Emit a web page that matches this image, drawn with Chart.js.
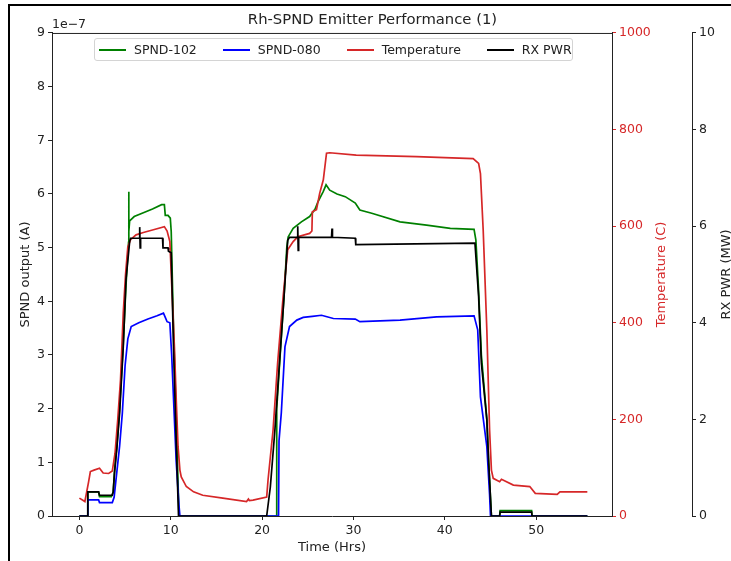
<!DOCTYPE html>
<html>
<head>
<meta charset="utf-8">
<script src="https://cdn.jsdelivr.net/npm/chart.js@4/dist/chart.umd.min.js"></script>
<style>
  body { margin: 0; background: #fff; font-family: "DejaVu Sans", sans-serif; }
  #wrap { position: relative; width: 731px; height: 561px; overflow: hidden; }
  #chart { position: absolute; left: 0; top: 0; }
  .frame { position: absolute; left: 8px; top: 4px; right: 0; bottom: 0;
           border-left: 2px solid #000; border-top: 2px solid #000; pointer-events: none; }
  .legend { position: absolute; left: 94px; top: 38px; width: 479px; height: 23px;
            border: 1px solid #d4d4d4; border-radius: 3px; background: rgba(255,255,255,0.8);
            display: flex; align-items: center; padding-left: 4px; box-sizing: border-box;
            font-size: 12.5px; color: #222; white-space: nowrap; }
  .legend .item { display: flex; align-items: center; margin-right: 26px; flex-shrink: 0; }
  .legend .swatch { width: 27px; height: 2px; margin-right: 8px; }
</style>
</head>
<body>
<div id="wrap">
  <canvas id="chart" width="731" height="561"></canvas>
  <div class="legend" id="legend"></div>
  <div class="frame"></div>
</div>
<script>
// SPND currents are in units of 1e-7 A
const t102 = [0, 0.9, 0.92, 2.1, 2.2, 3.5, 3.7, 3.85, 4.1, 4.4, 4.8, 5.1, 5.38, 5.4, 5.42, 5.5, 6.0, 7.0, 8.0, 9.0, 9.3, 9.4, 9.7, 9.95, 10.05, 10.3, 10.6, 10.9, 11.0,
  21.55, 21.6, 21.9, 22.4, 22.7, 22.85, 23.4, 24.3, 25.2, 25.8, 26.1, 26.7, 27.0, 27.4, 28.2, 29.1, 30.2, 30.7, 32.0, 35.1, 38.0, 40.6, 43.2, 43.4, 43.7, 44.0, 44.6, 44.8, 45.1,
  46.0, 46.05, 49.5, 49.55, 55.6];
const v102 = [0, 0, 0.45, 0.45, 0.36, 0.36, 0.45, 0.85, 1.3, 2.0, 3.2, 4.3, 5.1, 6.04, 5.3, 5.5, 5.58, 5.65, 5.72, 5.8, 5.8, 5.6, 5.6, 5.55, 5.3, 3.5, 1.8, 0, 0,
  0, 2.0, 2.8, 4.1, 5.0, 5.2, 5.36, 5.48, 5.58, 5.72, 5.85, 6.05, 6.17, 6.07, 6.0, 5.95, 5.83, 5.7, 5.64, 5.48, 5.42, 5.36, 5.34, 5.14, 4.2, 3.0, 1.8, 1.0, 0,
  0, 0.1, 0.1, 0, 0];

const t080 = [0, 0.9, 0.92, 2.1, 2.2, 3.6, 3.8, 4.0, 4.4, 4.7, 5.0, 5.3, 5.67, 6.5, 7.5, 8.5, 9.2, 9.4, 9.6, 9.9, 10.1, 10.4, 10.6, 10.9, 11.0,
  21.8, 21.85, 22.1, 22.5, 23.0, 23.8, 24.5, 25.5, 26.5, 27.8, 30.2, 30.7, 35.1, 39.1, 43.2, 43.6, 43.9, 44.6, 44.9, 45.0, 55.6];
const v080 = [0, 0, 0.3, 0.3, 0.25, 0.25, 0.35, 0.67, 1.3, 1.92, 2.8, 3.3, 3.53, 3.6, 3.67, 3.73, 3.78, 3.7, 3.62, 3.6, 3.0, 1.8, 1.0, 0.2, 0,
  0, 1.4, 1.92, 3.15, 3.53, 3.65, 3.7, 3.72, 3.74, 3.68, 3.67, 3.62, 3.65, 3.71, 3.73, 3.47, 2.22, 1.29, 0.4, 0, 0];

// temperature in C
const tTemp = [0, 0.6, 1.0, 1.2, 1.6, 2.2, 2.6, 3.2, 3.6, 3.9, 4.2, 4.5, 4.8, 5.05, 5.3, 5.6, 6.2, 7.0, 8.0, 9.3, 9.6, 9.9, 10.1, 10.4, 10.6, 10.8, 11.0, 11.15, 11.7, 12.5, 13.5, 15.7, 18.3, 18.5, 18.6, 19.0, 20.5,
  20.65, 21.2, 21.7, 22.3, 22.8, 23.4, 23.9, 25.2, 25.45, 25.5, 25.95, 26.3, 26.7, 27.05, 27.4, 30.3, 36.9, 43.1, 43.7, 43.9, 44.2, 44.6, 44.9, 45.1, 45.3, 46.0, 46.2, 47.5, 49.3, 49.9, 52.3, 52.6, 55.6];
const vTemp = [37, 30, 70, 92, 95, 99, 89, 88, 93, 130, 200, 282, 420, 500, 557, 572, 582, 587, 592, 599, 590, 568, 480, 350, 240, 143, 95, 81, 61, 50, 43, 37, 30, 35, 32, 33, 39,
  75, 178, 317, 454, 551, 568, 578, 585, 590, 630, 634, 668, 696, 751, 752, 747, 744, 740, 730, 709, 592, 385, 178, 95, 78, 71, 76, 64, 61, 47, 45, 50, 50];

// reactor power in MW
const tPwr = [0, 0.9, 0.92, 2.1, 2.2, 3.6, 3.7, 3.84, 4.1, 4.4, 4.8, 5.1, 5.5, 5.6, 6.55, 6.6, 6.65, 6.7, 9.1, 9.15, 9.7, 9.75, 10.05, 10.3, 10.6, 10.85,
  20.5, 20.9, 21.4, 21.9, 22.4, 22.8, 23.0, 23.85, 23.9, 23.95, 24.0, 27.6, 27.65, 27.7, 30.2, 30.25, 43.3, 43.7, 44.0, 44.6, 44.8, 45.1,
  46.0, 46.05, 49.5, 49.55, 55.6];
const vPwr = [0, 0, 0.5, 0.5, 0.43, 0.43, 0.5, 0.89, 1.4, 2.13, 3.5, 4.9, 5.68, 5.75, 5.75, 5.98, 5.55, 5.75, 5.75, 5.55, 5.55, 5.48, 5.45, 3.5, 1.5, 0,
  0, 0.6, 1.78, 3.17, 4.54, 5.71, 5.77, 5.77, 6.0, 5.5, 5.77, 5.77, 5.95, 5.77, 5.75, 5.62, 5.65, 4.54, 3.17, 1.99, 1.1, 0,
  0, 0.08, 0.08, 0, 0];

const timeTicks = [0, 10, 20, 30, 40, 50];
const spndTicks = [0, 1, 2, 3, 4, 5, 6, 7, 8, 9];
const tempTicks = [0, 200, 400, 600, 800, 1000];
const pwrTicks = [0, 2, 4, 6, 8, 10];

const seriesNames = ['SPND-102', 'SPND-080', 'Temperature', 'RX PWR'];
const seriesColors = ['#008000', '#0000ff', '#d62728', '#000000'];

const RED = '#d62728';
const INK = '#222';

Chart.defaults.font.family = '"DejaVu Sans", sans-serif';
Chart.defaults.font.size = 12.5;
Chart.defaults.color = INK;

function pts(ts, vs) {
  return ts.map((t, i) => ({ x: t, y: vs[i] }));
}

function fixedTicks(list) {
  return (scale) => { scale.ticks = list.map(v => ({ value: v })); };
}

const plain = (v) => String(v);

function drawVertical(ctx, text, x, y, color) {
  ctx.save();
  ctx.translate(x, y);
  ctx.rotate(-Math.PI / 2);
  ctx.fillStyle = color;
  ctx.textAlign = 'center';
  ctx.textBaseline = 'middle';
  ctx.fillText(text, 0, 0);
  ctx.restore();
}

// top spine, offset text and the right-hand axis titles (matplotlib style)
const extras = {
  id: 'extras',
  afterDraw(chart) {
    const { ctx, chartArea: a, scales } = chart;
    ctx.save();
    ctx.strokeStyle = INK;
    ctx.lineWidth = 1;
    ctx.beginPath();
    ctx.moveTo(a.left, a.top + 0.5);
    ctx.lineTo(a.right, a.top + 0.5);
    ctx.stroke();

    ctx.font = '12.5px "DejaVu Sans"';
    ctx.fillStyle = INK;
    ctx.textAlign = 'left';
    ctx.textBaseline = 'bottom';
    ctx.fillText('1e\u22127', a.left, a.top - 2);

    const midY = (a.top + a.bottom) / 2;
    ctx.font = '13px "DejaVu Sans"';
    drawVertical(ctx, 'Temperature (C)', scales.yT.left + 50, midY, RED);
    drawVertical(ctx, 'RX PWR (MW)', scales.yP.left + 35, midY, INK);
    ctx.restore();
  }
};

const series = [pts(t102, v102), pts(t080, v080), pts(tTemp, vTemp), pts(tPwr, vPwr)];
const axisIds = ['y', 'y', 'yT', 'yP'];
const drawOrder = [3, 2, 1, 0];

const chart = new Chart(document.getElementById('chart'), {
  type: 'line',
  data: {
    datasets: series.map((d, i) => ({
      label: seriesNames[i],
      data: d,
      yAxisID: axisIds[i],
      borderColor: seriesColors[i],
      backgroundColor: seriesColors[i],
      borderWidth: 1.7,
      pointRadius: 0,
      tension: 0,
      order: drawOrder[i]
    }))
  },
  options: {
    responsive: false,
    animation: false,
    layout: { padding: { left: 14, right: 0, top: 0, bottom: 0 } },
    plugins: {
      legend: { display: false },
      tooltip: { enabled: false },
      title: {
        display: true,
        text: 'Rh-SPND Emitter Performance (1)',
        color: INK,
        font: { size: 14.8, weight: 'normal' },
        padding: { top: 11, bottom: 4.2 }
      }
    },
    scales: {
      x: {
        type: 'linear',
        min: -3.0,
        max: 58.3,
        afterBuildTicks: fixedTicks(timeTicks),
        afterFit: (s) => { s.height = 45; },
        grid: { drawOnChartArea: false, tickLength: 4, color: INK },
        border: { color: INK },
        ticks: { padding: 3, color: INK, maxRotation: 0, callback: plain },
        title: { display: true, text: 'Time (Hrs)', color: INK, font: { size: 13 }, padding: { top: 0, bottom: 6 } }
      },
      y: {
        position: 'left',
        min: 0,
        max: 9,
        afterBuildTicks: fixedTicks(spndTicks),
        afterFit: (s) => { s.width = 38; },
        grid: { drawOnChartArea: false, tickLength: 4, color: INK },
        border: { color: INK },
        ticks: { padding: 3, color: INK, callback: plain },
        title: { display: true, text: 'SPND output (A)', color: INK, font: { size: 13 }, padding: { top: 4, bottom: 0 } }
      },
      yT: {
        position: 'right',
        weight: 0,
        min: 0,
        max: 1000,
        afterBuildTicks: fixedTicks(tempTicks),
        afterFit: (s) => { s.width = 80; },
        grid: { drawOnChartArea: false, tickLength: 4, color: RED },
        border: { color: INK },
        ticks: { padding: 3, color: RED, callback: plain }
      },
      yP: {
        position: 'right',
        weight: 1,
        min: 0,
        max: 10,
        afterBuildTicks: fixedTicks(pwrTicks),
        afterFit: (s) => { s.width = 39; },
        grid: { drawOnChartArea: false, tickLength: 4, color: INK },
        border: { color: INK },
        ticks: { padding: 3, color: INK, callback: plain }
      }
    }
  },
  plugins: [extras]
});

// legend sits inside the plot like matplotlib's upper-center legend
const legendEl = document.getElementById('legend');
chart.data.datasets.forEach((ds) => {
  const item = document.createElement('div');
  item.className = 'item';
  const sw = document.createElement('span');
  sw.className = 'swatch';
  sw.style.background = ds.borderColor;
  const label = document.createElement('span');
  label.textContent = ds.label;
  item.appendChild(sw);
  item.appendChild(label);
  legendEl.appendChild(item);
});
</script>
</body>
</html>
